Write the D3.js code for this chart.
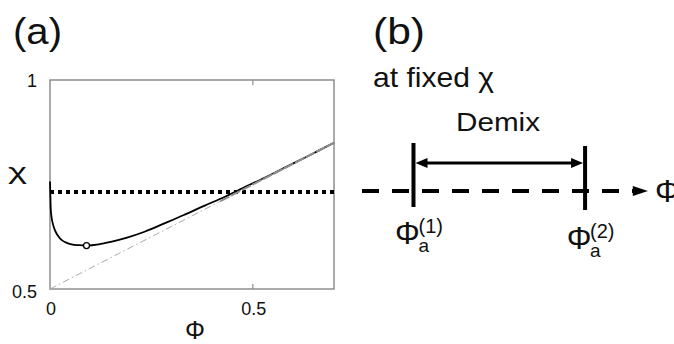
<!DOCTYPE html>
<html>
<head>
<meta charset="utf-8">
<script src="https://cdn.jsdelivr.net/npm/d3@7/dist/d3.min.js"></script>
<style>
  html, body { margin: 0; padding: 0; background: #fff; }
  svg { display: block; }
  text { font-family: "Liberation Sans", Arial, Helvetica, sans-serif; fill: #111; }
</style>
</head>
<body>
<svg id="chart" width="674" height="344"></svg>
<script>
// ---- Data ----
// Panel (a): spinodal-like curve chi(phi)
const phiCurve = [0, 0.001, 0.0025, 0.006, 0.012, 0.02, 0.029, 0.04, 0.053, 0.07, 0.09, 0.12, 0.15, 0.19, 0.233, 0.282, 0.33, 0.38, 0.43, 0.47, 0.52, 0.58, 0.64, 0.7];
const chiCurve = [0.757, 0.72, 0.682, 0.66, 0.641, 0.627, 0.617, 0.611, 0.607, 0.605, 0.604, 0.607, 0.613, 0.623, 0.637, 0.657, 0.677, 0.699, 0.72, 0.739, 0.762, 0.791, 0.82, 0.85];
// asymptote chi = 0.5 + phi/2 (two end points)
const phiAsym = [0, 0.7];
const chiAsym = [0.5, 0.85];
// critical point (open circle)
const critPoint = [0.09, 0.604];
// fixed chi level (dotted line)
const chiFixed = 0.732;
// axis ticks
const xTicks = [0, 0.5];
const xTickLabels = ["0", "0.5"];
const yTicks = [0.5, 1];
const yTickLabels = ["0.5", "1"];
// Panel (b): schematic phi axis positions of the two coexisting phases
const phiA = [0.18, 0.78];
const phiALabels = ["(1)", "(2)"];

// ---- Drawing ----
const svg = d3.select("#chart");
const PHI = "\u03A6";

// Panel (a) scales
const x = d3.scaleLinear().domain([0, 0.7]).range([50, 334]);
const y = d3.scaleLinear().domain([0.5, 1]).range([289, 80]);

const gA = svg.append("g");

// frame
gA.append("rect")
  .attr("x", x(0)).attr("y", y(1))
  .attr("width", x(0.7) - x(0)).attr("height", y(0.5) - y(1))
  .attr("fill", "none").attr("stroke", "#8e8e8e").attr("stroke-width", 1.5);

// inner ticks at 0.5 (top & bottom)
xTicks.filter(t => t > 0).forEach(t => {
  gA.append("line").attr("x1", x(t)).attr("x2", x(t)).attr("y1", y(0.5)).attr("y2", y(0.5) - 5)
    .attr("stroke", "#8e8e8e").attr("stroke-width", 1.2);
  gA.append("line").attr("x1", x(t)).attr("x2", x(t)).attr("y1", y(1)).attr("y2", y(1) + 5)
    .attr("stroke", "#8e8e8e").attr("stroke-width", 1.2);
});

// tick labels
xTicks.forEach((t, i) => {
  gA.append("text").attr("x", x(t) + 1).attr("y", 315)
    .attr("text-anchor", "middle").attr("font-size", 18).text(xTickLabels[i]);
});
yTicks.forEach((t, i) => {
  gA.append("text").attr("x", 37).attr("y", y(t) + (t === 1 ? 7 : 9))
    .attr("text-anchor", "end").attr("font-size", 18).text(yTickLabels[i]);
});

// axis labels
gA.append("text").attr("x", 8).attr("y", 179).attr("font-size", 22)
  .attr("textLength", 19).attr("lengthAdjust", "spacingAndGlyphs").text("χ");
gA.append("text").attr("x", 195).attr("y", 339).attr("font-size", 25)
  .attr("text-anchor", "middle").text(PHI);

// dotted fixed-chi line
gA.append("line")
  .attr("x1", x(0)).attr("x2", x(0.7)).attr("y1", y(chiFixed)).attr("y2", y(chiFixed))
  .attr("stroke", "#000").attr("stroke-width", 4).attr("stroke-dasharray", "4,4");

// curve
const curveData = phiCurve.map((p, i) => [p, chiCurve[i]]);
const line = d3.line().x(d => x(d[0])).y(d => y(d[1])).curve(d3.curveCatmullRom.alpha(0.5));
gA.append("path").datum(curveData).attr("d", line)
  .attr("fill", "none").attr("stroke", "#000").attr("stroke-width", 1.8);

// asymptote (dash-dot, light gray)
const asymData = phiAsym.map((p, i) => [p, chiAsym[i]]);
gA.append("path").datum(asymData).attr("d", d3.line().x(d => x(d[0])).y(d => y(d[1])))
  .attr("fill", "none").attr("stroke", "#aaaaaa").attr("stroke-width", 1)
  .attr("stroke-dasharray", "7,3,1.5,3");
// where curve and asymptote merge: gray overlay
const mergeStart = 0.42;
gA.append("path").datum([[mergeStart, 0.5 + mergeStart / 2], asymData[1]])
  .attr("d", d3.line().x(d => x(d[0])).y(d => y(d[1])))
  .attr("fill", "none").attr("stroke", "#8f8f8f").attr("stroke-width", 2)
  .attr("stroke-dasharray", "10,2");

// critical point
gA.append("circle").attr("cx", x(critPoint[0])).attr("cy", y(critPoint[1])).attr("r", 3)
  .attr("fill", "#fff").attr("stroke", "#000").attr("stroke-width", 1.3);

// panel label
svg.append("text").attr("x", 13).attr("y", 44).attr("font-size", 36)
  .attr("textLength", 49).attr("lengthAdjust", "spacingAndGlyphs").text("(a)");

// ---- Panel (b) ----
const b = d3.scaleLinear().domain([0, 1]).range([362, 648]);
const gB = svg.append("g");
const axisY = 191;

svg.append("text").attr("x", 373).attr("y", 44).attr("font-size", 36)
  .attr("textLength", 52).attr("lengthAdjust", "spacingAndGlyphs").text("(b)");
gB.append("text").attr("x", 373).attr("y", 87).attr("font-size", 28)
  .attr("textLength", 121).attr("lengthAdjust", "spacingAndGlyphs").text("at fixed χ");
gB.append("text").attr("x", 456).attr("y", 131).attr("font-size", 25)
  .attr("textLength", 84).attr("lengthAdjust", "spacingAndGlyphs").text("Demix");

// dashed phi axis
gB.append("line").attr("x1", b(0)).attr("x2", b(0.95)).attr("y1", axisY).attr("y2", axisY)
  .attr("stroke", "#000").attr("stroke-width", 4).attr("stroke-dasharray", "17,13");
gB.append("path")
  .attr("d", `M${b(0.947)},${axisY - 5}L${b(1)},${axisY}L${b(0.947)},${axisY + 5}Z`)
  .attr("fill", "#000");
gB.append("text").attr("x", 655).attr("y", 202).attr("font-size", 31).text(PHI);

// vertical bars at phi_a^(1), phi_a^(2)
const barTop = [143, 146];
phiA.forEach((p, i) => {
  gB.append("line").attr("x1", b(p)).attr("x2", b(p))
    .attr("y1", barTop[i]).attr("y2", barTop[i] + 64)
    .attr("stroke", "#000").attr("stroke-width", 4);
  const lx = b(p), ly = 244 + i * 5;
  gB.append("text").attr("x", lx - 6).attr("y", ly).attr("font-size", 31)
    .attr("text-anchor", "middle").text(PHI);
  gB.append("text").attr("x", lx + 5).attr("y", ly + 8).attr("font-size", 19).text("a");
  gB.append("text").attr("x", lx + 5).attr("y", ly - 11).attr("font-size", 20).text(phiALabels[i]);
});

// double arrow (Demix)
const arrY = 163;
const ax1 = b(phiA[0]) + 2, ax2 = b(phiA[1]) - 2;
gB.append("line").attr("x1", ax1 + 8).attr("x2", ax2 - 8).attr("y1", arrY).attr("y2", arrY)
  .attr("stroke", "#000").attr("stroke-width", 3);
gB.append("path").attr("d", `M${ax1},${arrY}L${ax1 + 12},${arrY - 5}L${ax1 + 12},${arrY + 5}Z`).attr("fill", "#000");
gB.append("path").attr("d", `M${ax2},${arrY}L${ax2 - 12},${arrY - 5}L${ax2 - 12},${arrY + 5}Z`).attr("fill", "#000");
</script>
</body>
</html>
